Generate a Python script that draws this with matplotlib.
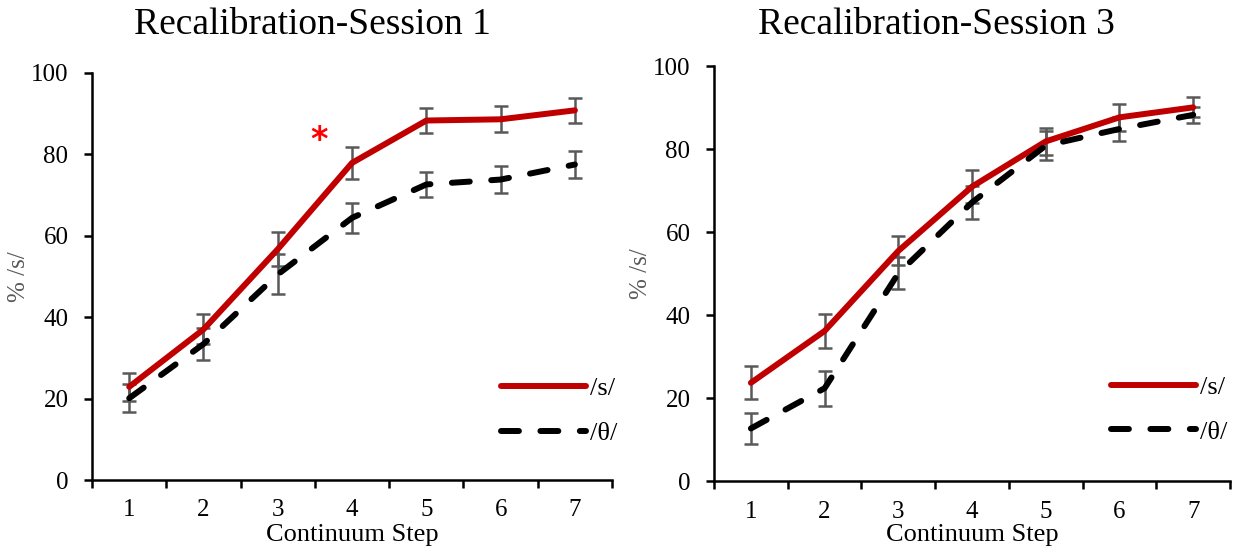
import matplotlib.pyplot as plt
import numpy as np

steps = [1, 2, 3, 4, 5, 6, 7]

# Session 1
s1_s = [22.9, 37.0, 56.7, 77.9, 88.3, 88.6, 90.8]
s1_s_err = [3.5, 3.7, 4.2, 3.9, 3.0, 3.2, 3.1]
s1_th = [20.1, 33.4, 50.5, 64.4, 72.6, 73.8, 77.5]
s1_th_err = [3.5, 3.9, 4.9, 3.7, 3.0, 3.3, 3.2]

# Session 3
s3_s = [23.7, 36.2, 55.5, 71.0, 81.9, 87.7, 90.1]
s3_s_err = [4.0, 4.0, 3.5, 4.0, 3.3, 3.2, 2.4]
s3_th = [12.7, 22.4, 50.1, 67.2, 80.9, 84.9, 88.3]
s3_th_err = [3.8, 4.2, 3.9, 4.0, 3.5, 3.0, 2.0]

titles = ['Recalibration-Session 1', 'Recalibration-Session 3']

plt.rcParams['font.family'] = ['Liberation Serif', 'DejaVu Serif']

fig = plt.figure(figsize=(12.39, 5.48), dpi=100)
ax1 = fig.add_axes([0.0743, 0.124, 0.4197, 0.743])
ax2 = fig.add_axes([0.5763, 0.122, 0.4165, 0.757])

red = '#C00000'
grey = '#595959'

panels = [(ax1, s1_s, s1_s_err, s1_th, s1_th_err, (1.03, 0.06), -0.107, -0.119),
          (ax2, s3_s, s3_s_err, s3_th, s3_th_err, (1.015, 0.065), -0.103, -0.12)]

for ax, s, se, th, te, leg_pos, xl_y, yl_x in panels:
    ax.errorbar(steps, s, yerr=se, fmt='none', ecolor=grey, elinewidth=1.8,
                capsize=5, capthick=1.8, zorder=2)
    ax.errorbar(steps, th, yerr=te, fmt='none', ecolor=grey, elinewidth=1.8,
                capsize=5, capthick=1.8, zorder=2)
    ax.plot(steps, s, color=red, lw=4.3, solid_capstyle='round', label='/s/', zorder=3)
    ax.plot(steps, th, color='black', lw=4.3, linestyle=(0, (3.0, 3.6)),
            dash_capstyle='round', label='/θ/', zorder=3)

    ax.set_xlim(0.5, 7.5)
    ax.set_ylim(0, 100)
    ax.set_yticks([0, 20, 40, 60, 80, 100])
    ax.set_xticks(np.arange(0.5, 8, 1))
    ax.set_xticklabels([])
    ax.set_xticks(steps, minor=True)
    ax.set_xticklabels([str(i) for i in steps], minor=True)
    ax.tick_params(axis='x', which='major', length=6, width=1.8, direction='out')
    ax.tick_params(axis='x', which='minor', length=0, labelsize=18, pad=14)
    ax.tick_params(axis='y', length=6, width=1.8, direction='out', labelsize=18, pad=11)
    for sp in ['top', 'right']:
        ax.spines[sp].set_visible(False)
    for sp in ['left', 'bottom']:
        ax.spines[sp].set_linewidth(1.8)
    ax.set_xlabel('Continuum Step', fontsize=19)
    ax.xaxis.set_label_coords(0.5, xl_y)
    ax.set_ylabel('% /s/', fontsize=18, color=grey)
    ax.yaxis.set_label_coords(yl_x, 0.5)
    ax.legend(loc='lower right', frameon=False, fontsize=19, handlelength=3.2,
              handletextpad=0.15, labelspacing=0.8, borderaxespad=0,
              bbox_to_anchor=leg_pos)

fig.text(312 / 1239, 0.955, titles[0], fontsize=27, ha='center', va='center')
fig.text(936 / 1239, 0.955, titles[1], fontsize=27, ha='center', va='center')

ax1.text(3.55, 83.5, '*', color='red', fontsize=24, fontweight='bold',
         ha='center', va='center', family='DejaVu Sans')

fig.savefig('out.png', dpi=100)
